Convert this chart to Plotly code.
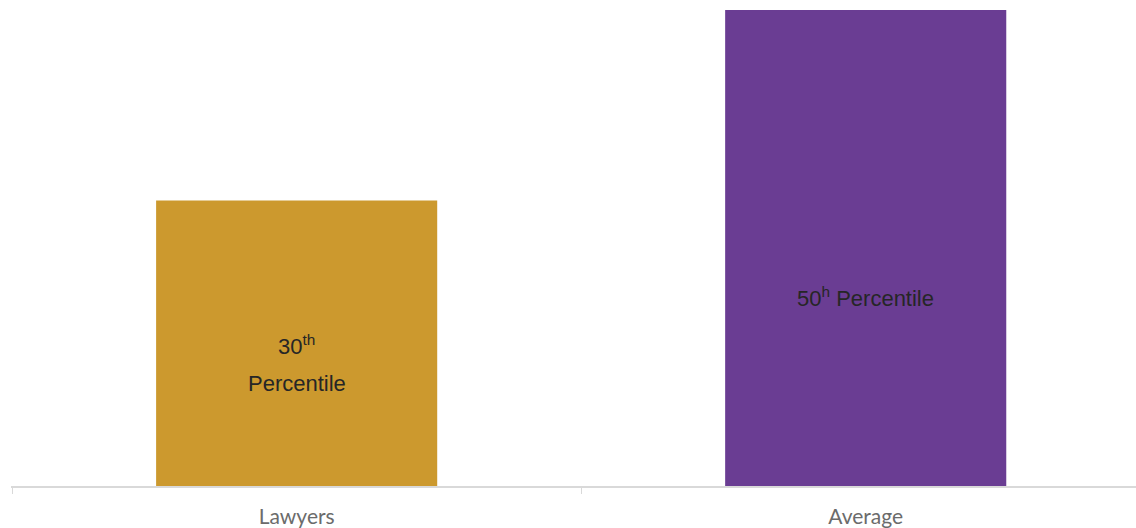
import plotly.graph_objects as go

categories = ["Lawyers", "Average"]
values = [30, 50]
colors = ["#CC992E", "#6A3D93"]
bar_texts = ["30<sup>th</sup><br>Percentile", "50<sup>h</sup> Percentile"]

fig = go.Figure()
fig.add_trace(go.Bar(
    x=categories, y=values, marker=dict(color=colors, line=dict(width=0)),
    width=0.494, hoverinfo="skip"
))

text_y = [12.8, 19.85]
line_gap = 38
for c, t, ty in zip(categories, bar_texts, text_y):
    lines = t.split("<br>")
    n = len(lines)
    for i, ln in enumerate(lines):
        shift = ((n - 1) / 2 - i) * line_gap
        fig.add_annotation(x=c, y=ty, text=ln, showarrow=False, yshift=shift,
                           font=dict(family="Liberation Sans, Arial", size=22, color="#262626"),
                           align="center")

fig.update_layout(
    width=1136, height=528,
    margin=dict(l=11, r=0, t=0, b=42),
    paper_bgcolor="white", plot_bgcolor="white",
    showlegend=False,
    xaxis=dict(range=[-0.502, 1.475], showline=True, linecolor="#d9d9d9", linewidth=1.5,
               ticks="outside", tickson="boundaries", ticklen=6, tickcolor="#d9d9d9",
               tickfont=dict(family="Lato", size=21, color="#6b6b6b"),
               ticklabelstandoff=11, showgrid=False, zeroline=False),
    yaxis=dict(range=[0, 51.05], visible=False, showgrid=False, zeroline=False),
)

fig.write_html("out.html", config={"displayModeBar": False, "staticPlot": True},
               post_script="document.body.style.margin='0';document.body.style.overflow='hidden';")
